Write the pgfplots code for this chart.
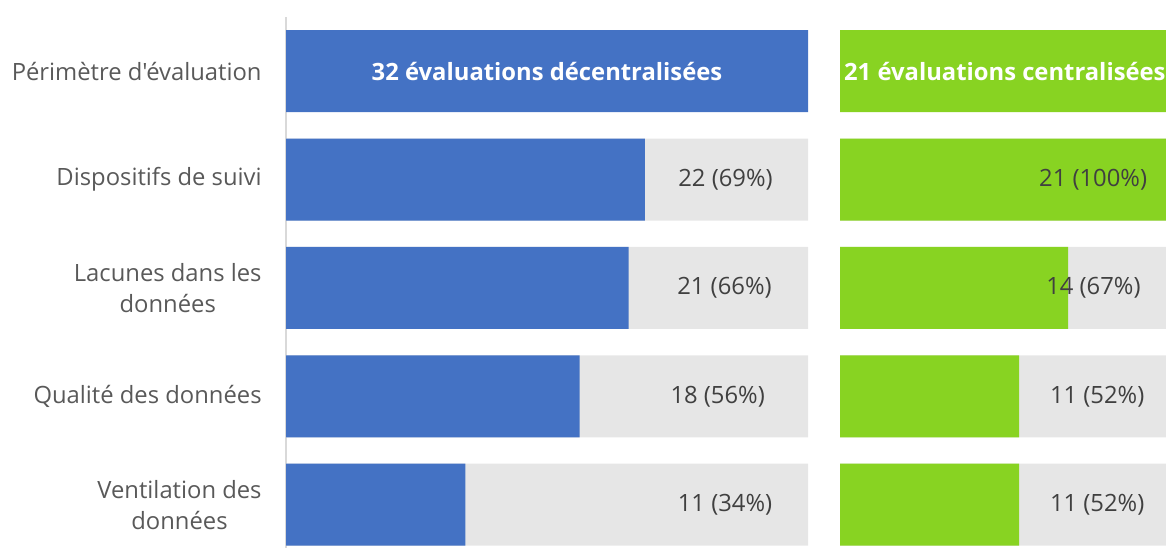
\documentclass[border=0pt]{standalone}
\usepackage{fontspec}
\setmainfont{Open Sans}[Ligatures=TeXOff]
\usepackage{pgfplots}
\pgfplotsset{compat=1.18}
\definecolor{cblue}{HTML}{4472C4}
\definecolor{cgreen}{HTML}{88D322}
\definecolor{cbg}{HTML}{E6E6E6}
\definecolor{clabel}{HTML}{595959}
\definecolor{cval}{HTML}{404040}
\definecolor{cline}{HTML}{D9D9D9}
\begin{document}
\begin{tikzpicture}
\fontsize{11.9}{15.5}\selectfont
\path[use as bounding box] (0,0) rectangle (583pt,274pt);
\pgfplotsset{
  panel/.style={
    scale only axis, anchor=south west,
    height=265.5pt,
    xbar, bar width=0.756, bar shift=0pt,
    xmin=0, xmax=100, ymin=-0.5, ymax=4.4,
    y dir=reverse,
    clip=false,
    xtick=\empty,
    ytick={0,1,2,3,4},
    major tick length=0pt,
    axis x line=none,
    tick label style={font=\fontsize{11.9}{15.5}\selectfont},
  }
}
\begin{axis}[panel, at={(143pt,0pt)}, width=261pt,
  axis y line=left,
  y axis line style={draw=cline, line width=1pt, -},
  yticklabels={{Périmètre d'évaluation},{Dispositifs de suivi},{Lacunes dans les\\données},{Qualité des données},{Ventilation des\\données}},
  yticklabel style={align=center, text=clabel, inner sep=0pt, xshift=-12pt},
]
\addplot[fill=cbg, draw=none] coordinates {(100,1) (100,2) (100,3) (100,4)};
\addplot[fill=cblue, draw=none] coordinates {(100,0) (68.75,1) (65.63,2) (56.25,3) (34.38,4)};
\node[text=white, font=\fontsize{11.9}{15.5}\selectfont\bfseries] at (axis cs:50,0) {32 évaluations décentralisées};
\node[text=cval] at (axis cs:84.2,1) {22 (69\%)};
\node[text=cval] at (axis cs:84.0,2) {21 (66\%)};
\node[text=cval] at (axis cs:82.7,3) {18 (56\%)};
\node[text=cval] at (axis cs:84.1,4) {11 (34\%)};
\end{axis}
\begin{axis}[panel, at={(420pt,0pt)}, width=171pt,
  axis y line=none, yticklabels={}]
\addplot[fill=cbg, draw=none] coordinates {(100,1) (100,2) (100,3) (100,4)};
\addplot[fill=cgreen, draw=none] coordinates {(100,0) (100,1) (66.67,2) (52.38,3) (52.38,4)};
\node[text=white, font=\fontsize{11.9}{15.5}\selectfont\bfseries] at (axis cs:48.2,0) {21 évaluations centralisées};
\node[text=cval] at (axis cs:74.0,1) {21 (100\%)};
\node[text=cval] at (axis cs:74.1,2) {14 (67\%)};
\node[text=cval] at (axis cs:75.2,3) {11 (52\%)};
\node[text=cval] at (axis cs:75.2,4) {11 (52\%)};
\end{axis}
\end{tikzpicture}
\end{document}
